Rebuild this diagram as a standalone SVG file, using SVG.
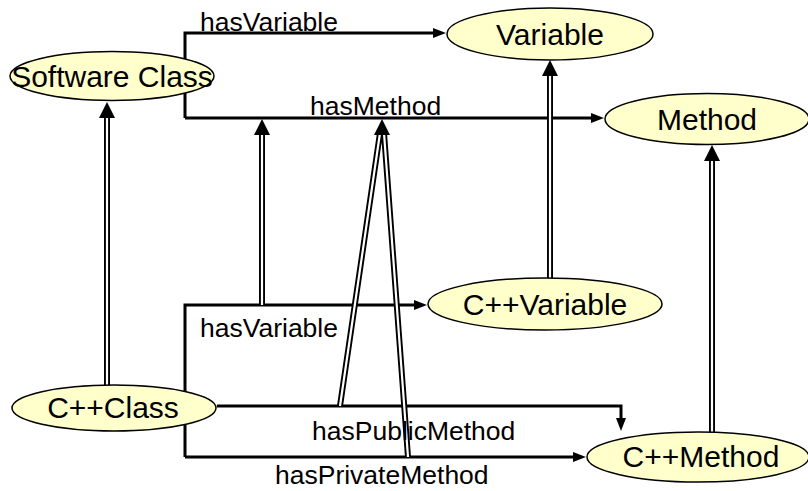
<svg xmlns="http://www.w3.org/2000/svg" width="808" height="491" viewBox="0 0 808 491">
  <style>
    .edge { fill: none; stroke: #000; stroke-width: 3; }
    .sub-outer { fill: none; stroke: #000; stroke-width: 6; }
    .sub-inner { fill: none; stroke: #fff; stroke-width: 2.2; }
    .head { fill: #000; }
    .node ellipse { fill: #ffffcc; stroke: #000; stroke-width: 1.5; }
    .node text { font-family: "Liberation Sans", Arial, sans-serif; font-size: 30px; fill: #000; text-anchor: middle; }
    .label { font-family: "Liberation Sans", Arial, sans-serif; font-size: 26.5px; fill: #000; }
  </style>
  <defs>
    <marker id="arrow" markerUnits="userSpaceOnUse" markerWidth="14" markerHeight="12" refX="1" refY="6" orient="auto">
      <path d="M0,1 L13,6 L0,11 Z" fill="#000"/>
    </marker>
  </defs>
  <rect width="808" height="491" fill="#fff"/>

  <g id="connectors">
    <!-- property edges -->
    <path class="edge" d="M185,118 V33 H434" marker-end="url(#arrow)"/>
    <path class="edge" d="M185,118 H592" marker-end="url(#arrow)"/>
    <path class="edge" d="M185,457 V305 H415" marker-end="url(#arrow)"/>
    <path class="edge" d="M185,457 H574" marker-end="url(#arrow)"/>
    <path class="edge" d="M217,406 H621 V419" marker-end="url(#arrow)"/>

    <!-- subclass / subproperty links (double lines) -->
    <path class="sub-outer" d="M107,387 V116"/>
    <path class="sub-inner" d="M107,387 V116"/>
    <path class="head" d="M107,102 L99,118 L115,118 Z"/>

    <path class="sub-outer" d="M262,305 V133"/>
    <path class="sub-inner" d="M262,305 V133"/>
    <path class="head" d="M262,119 L254,135 L270,135 Z"/>

    <path class="sub-outer" d="M340,406 L380,133 M408,457 L384,133"/>
    <path class="sub-inner" d="M340,406 L380,133 M408,457 L384,133"/>
    <path class="head" d="M382,119 L374,135 L390,135 Z"/>

    <path class="sub-outer" d="M550,279 V74"/>
    <path class="sub-inner" d="M550,279 V74"/>
    <path class="head" d="M550,60 L542,76 L558,76 Z"/>

    <path class="sub-outer" d="M712,433 V159"/>
    <path class="sub-inner" d="M712,433 V159"/>
    <path class="head" d="M712,145 L704,161 L720,161 Z"/>

    <!-- edge labels -->
    <text class="label" x="200" y="31">hasVariable</text>
    <text class="label" x="310" y="115">hasMethod</text>
    <text class="label" x="200" y="337">hasVariable</text>
    <text class="label" x="312" y="440">hasPublicMethod</text>
    <text class="label" x="275" y="484">hasPrivateMethod</text>
  </g>

  <g id="software-class" class="node">
    <ellipse cx="112" cy="76" rx="102" ry="24.5"/>
    <text x="112" y="87">Software Class</text>
  </g>
  <g id="variable" class="node">
    <ellipse cx="550" cy="34" rx="103" ry="26"/>
    <text x="550" y="45">Variable</text>
  </g>
  <g id="method" class="node">
    <ellipse cx="707" cy="119" rx="102" ry="25.5"/>
    <text x="707" y="130">Method</text>
  </g>
  <g id="cpp-variable" class="node">
    <ellipse cx="545" cy="304" rx="117" ry="26"/>
    <text x="545" y="315">C++Variable</text>
  </g>
  <g id="cpp-class" class="node">
    <ellipse cx="114" cy="408" rx="102" ry="23"/>
    <text x="113" y="418">C++Class</text>
  </g>
  <g id="cpp-method" class="node">
    <ellipse cx="698" cy="457" rx="111" ry="25"/>
    <text x="701" y="467">C++Method</text>
  </g>
</svg>
